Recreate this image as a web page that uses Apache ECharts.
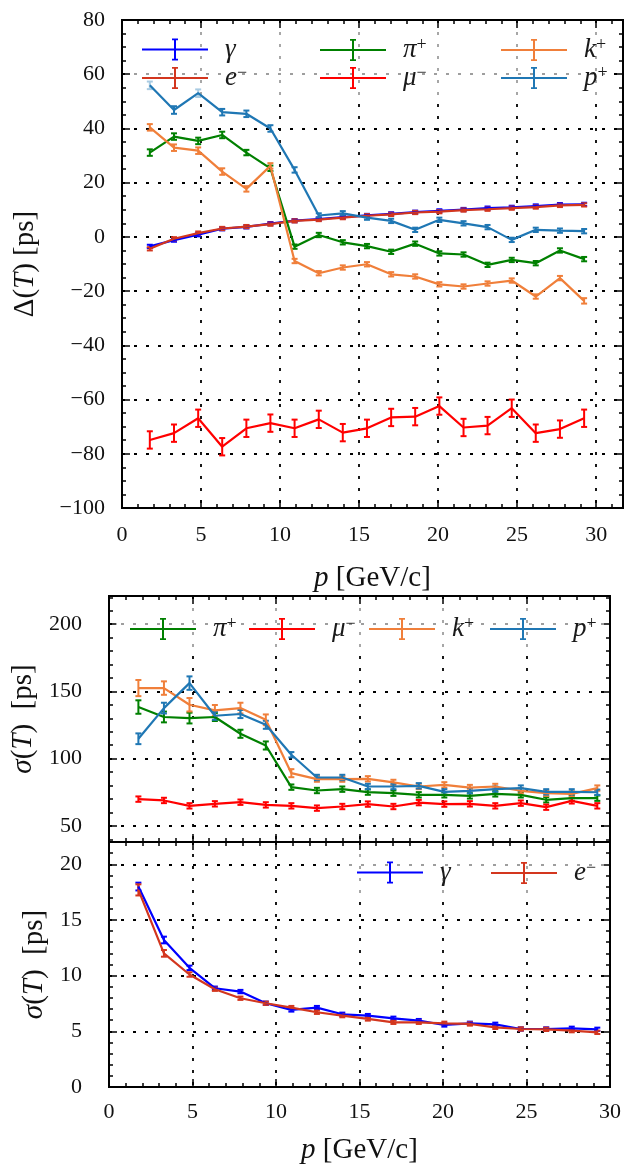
<!DOCTYPE html>
<html><head><meta charset="utf-8">
<script src="https://cdn.jsdelivr.net/npm/echarts@6/dist/echarts.min.js"></script>
<style>html,body{margin:0;padding:0;background:#fff}#c{width:629px;height:1172px}</style>
</head><body><div id="c"></div><script>
// ---- data ----
const pMomentum = [1.76, 3.29, 4.82, 6.34, 7.87, 9.39, 10.92, 12.45, 13.97, 15.50, 17.03, 18.55, 20.08, 21.61, 23.13, 24.66, 26.18, 27.71, 29.24];

// Delta(T) [ps]
const dT_gamma = [-3.5, -1.2, 0.8, 3.0, 3.7, 4.9, 6.0, 6.6, 7.3, 7.9, 8.5, 9.1, 9.6, 10.1, 10.6, 10.9, 11.4, 11.9, 12.0];
const dT_eminus = [-4.4, -0.7, 1.4, 3.1, 3.8, 4.7, 5.9, 6.4, 7.1, 7.8, 8.3, 9.0, 9.3, 9.9, 10.2, 10.6, 11.0, 11.6, 11.8];
const dT_piplus = [31.1, 37.0, 35.4, 37.6, 31.1, 25.3, -3.6, 0.7, -2.0, -3.4, -5.5, -2.5, -6.1, -6.5, -10.3, -8.5, -9.7, -5.0, -8.2];
const dT_muminus = [-74.9, -72.4, -66.9, -77.4, -70.6, -68.7, -70.6, -67.3, -72.2, -70.6, -66.6, -66.3, -62.4, -70.3, -69.6, -63.2, -72.4, -70.9, -66.9];
const dT_kplus = [40.4, 32.9, 31.8, 24.1, 17.7, 26.2, -8.9, -13.4, -11.3, -10.1, -13.8, -14.6, -17.5, -18.3, -17.2, -16.1, -22.0, -15.2, -23.6];
const dT_pplus = [55.9, 46.8, 53.0, 46.0, 45.4, 40.0, 24.7, 7.9, 8.7, 7.1, 5.9, 2.6, 6.3, 5.0, 3.6, -1.1, 2.6, 2.3, 2.1];

const dTerr_gamma = [0.6, 0.6, 0.6, 0.6, 0.6, 0.6, 0.6, 0.6, 0.6, 0.6, 0.6, 0.6, 0.6, 0.6, 0.6, 0.6, 0.6, 0.6, 0.6];
const dTerr_eminus = [0.6, 0.6, 0.6, 0.6, 0.6, 0.6, 0.6, 0.6, 0.6, 0.6, 0.6, 0.6, 0.6, 0.6, 0.6, 0.6, 0.6, 0.6, 0.6];
const dTerr_piplus = [1.2, 1.2, 1.2, 1.2, 1.0, 1.0, 0.8, 0.8, 0.8, 0.8, 0.8, 0.8, 0.8, 0.8, 0.8, 0.8, 0.8, 0.8, 0.8];
const dTerr_muminus = [3.2, 3.2, 3.2, 3.2, 3.2, 3.2, 3.2, 3.2, 3.2, 3.2, 3.2, 3.2, 3.2, 3.2, 3.2, 3.2, 3.2, 3.2, 3.2];
const dTerr_kplus = [1.2, 1.2, 1.2, 1.2, 1.0, 1.0, 0.8, 0.8, 0.8, 0.8, 0.8, 0.8, 0.8, 0.8, 0.8, 0.8, 0.8, 0.8, 1.0];
const dTerr_pplus = [1.4, 1.4, 1.4, 1.2, 1.2, 1.2, 1.0, 0.8, 0.8, 0.8, 0.8, 0.8, 0.8, 0.8, 0.8, 0.8, 0.8, 0.8, 0.8];

// sigma(T) [ps], hadrons & muon
const sT_piplus = [138.4, 131.0, 130.2, 131.0, 118.5, 109.8, 78.8, 76.3, 77.3, 75.1, 74.3, 73.1, 73.1, 72.3, 73.8, 73.1, 69.4, 70.6, 70.6];
const sT_muminus = [69.9, 68.9, 64.9, 66.4, 67.6, 65.6, 64.9, 63.2, 64.4, 66.2, 64.4, 67.3, 66.2, 66.4, 64.9, 66.9, 63.9, 68.6, 64.9];
const sT_kplus = [152.5, 152.5, 140.1, 135.9, 137.6, 128.9, 89.2, 84.8, 84.8, 85.0, 82.3, 79.3, 80.5, 78.5, 79.3, 76.1, 74.3, 73.8, 78.1];
const sT_pplus = [114.8, 137.6, 156.2, 131.9, 133.2, 125.2, 102.9, 86.0, 86.0, 79.3, 79.3, 79.8, 75.3, 76.1, 77.3, 78.1, 75.3, 75.3, 75.0];

const sTerr_piplus = [5, 4, 4, 3, 3, 3, 2, 2, 2, 2, 2, 2, 2, 2, 2, 2, 2, 2, 2];
const sTerr_muminus = [2, 2, 2, 2, 2, 2, 2, 2, 2, 2, 2, 2, 2, 2, 2, 2, 2, 2, 2];
const sTerr_kplus = [6, 5, 5, 4, 4, 4, 3, 2, 2, 2, 2, 2, 2, 2, 2, 2, 2, 2, 2];
const sTerr_pplus = [4, 4, 5, 3, 3, 3, 2, 2, 2, 2, 2, 2, 2, 2, 2, 2, 2, 2, 2];

// sigma(T) [ps], photon & electron
const sT_gamma = [18.0, 13.2, 10.7, 8.87, 8.57, 7.52, 6.92, 7.13, 6.53, 6.41, 6.17, 5.96, 5.57, 5.72, 5.63, 5.21, 5.21, 5.27, 5.18];
const sT_eminus = [17.7, 12.0, 10.1, 8.78, 7.97, 7.52, 7.13, 6.71, 6.41, 6.11, 5.81, 5.81, 5.72, 5.66, 5.36, 5.21, 5.18, 5.06, 4.91];
const sTerr_gamma = [0.35, 0.3, 0.2, 0.15, 0.15, 0.15, 0.15, 0.15, 0.15, 0.15, 0.15, 0.15, 0.15, 0.15, 0.15, 0.15, 0.15, 0.15, 0.15];
const sTerr_eminus = [0.5, 0.3, 0.2, 0.15, 0.15, 0.15, 0.15, 0.15, 0.15, 0.15, 0.15, 0.15, 0.15, 0.15, 0.15, 0.15, 0.15, 0.15, 0.15];

// ticks
const xTicksMajor = [0, 5, 10, 15, 20, 25, 30];
const xTicksMinorTop = [0,1,2,3,4,5,6,7,8,9,10,11,12,13,14,15,16,17,18,19,20,21,22,23,24,25,26,27,28,29,30,31];
const xTicksMinor = [0,1,2,3,4,5,6,7,8,9,10,11,12,13,14,15,16,17,18,19,20,21,22,23,24,25,26,27,28,29,30];
const yTicksDelta = [-100, -80, -60, -40, -20, 0, 20, 40, 60, 80];
const yTicksDeltaMinor = [-100,-95,-90,-85,-80,-75,-70,-65,-60,-55,-50,-45,-40,-35,-30,-25,-20,-15,-10,-5,0,5,10,15,20,25,30,35,40,45,50,55,60,65,70,75,80];
const yTicksSigHad = [50, 100, 150, 200];
const yTicksSigHadMinor = [40,50,60,70,80,90,100,110,120,130,140,150,160,170,180,190,200,210,220];
const yTicksSigEm = [0, 5, 10, 15, 20];
const yTicksSigEmMinor = [0,1,2,3,4,5,6,7,8,9,10,11,12,13,14,15,16,17,18,19,20,21,22];

// ---- styles ----
const C = { gamma:'#0000ff', eminus:'#d3361e', piplus:'#008000', muminus:'#ff0000', kplus:'#f07f3a', pplus:'#1f77b4' };
const FONT = 'Liberation Serif';
const gridLine = { show:true, lineStyle:{ color:'#000', width:1.8, type:[3,9] } };
const nameRich = {
  n: { fontFamily:FONT, fontSize:29, lineHeight:32, color:'#111' },
  it: { fontFamily:FONT, fontSize:29, lineHeight:32, fontStyle:'italic', color:'#111' }
};
const fmtNum = v => String(v).replace('-', '\u2212');

function axisSet(dim, gi, min, max, major, minor, o) {
  const posA = dim === 'x' ? 'bottom' : 'left';
  const posB = dim === 'x' ? 'top' : 'right';
  const base = (pos, ticks, len, labels, split) => ({
    gridIndex: gi, type:'value', min, max, position: pos,
    axisLine:{ show:true, onZero:false, lineStyle:{ color:'#000', width:2 } },
    axisTick:{ show:true, inside:true, length:len, customValues:ticks, lineStyle:{ color:'#000', width:1.5 } },
    axisLabel: labels ? { show:true, customValues:ticks, formatter:fmtNum, fontFamily:FONT, fontSize:22, color:'#111', margin:o.margin } : { show:false },
    splitLine: split ? gridLine : { show:false },
    minorTick:{ show:false }
  });
  const a = base(posA, major, 8, o.labels, true);
  if (o.name) {
    a.name = o.name; a.nameLocation = 'middle'; a.nameGap = o.nameGap;
    a.nameTextStyle = { rich: nameRich };
  }
  return [a, base(posA, minor, 4, false, false), base(posB, major, 8, false, false), base(posB, minor, 4, false, false)];
}

const xAxis = [].concat(
  axisSet('x', 0, 0, 31.7, xTicksMajor, xTicksMinorTop, { labels:true, margin:16, name:'{it|p}{n| [GeV/c]}', nameGap:54 }),
  axisSet('x', 1, 0, 30, xTicksMajor, xTicksMinor, { labels:false }),
  axisSet('x', 2, 0, 30, xTicksMajor, xTicksMinor, { labels:true, margin:14, name:'{it|p}{n| [GeV/c]}', nameGap:47 })
);
const yAxis = [].concat(
  axisSet('y', 0, -100, 80, yTicksDelta, yTicksDeltaMinor, { labels:true, margin:17, name:'{n|\u0394(}{it|T}{n|) [ps]}', nameGap:81 }),
  axisSet('y', 1, 38, 221, yTicksSigHad, yTicksSigHadMinor, { labels:true, margin:27, name:'{it|\u03c3}{n|(}{it|T}{n|)  [ps]}', nameGap:67 }),
  axisSet('y', 2, 0, 22, yTicksSigEm, yTicksSigEmMinor, { labels:true, margin:27, name:'{it|\u03c3}{n|(}{it|T}{n|)  [ps]}', nameGap:59 })
);

function errRender(params, api) {
  const x = api.value(0), y = api.value(1), e = api.value(2);
  const hi = api.coord([x, y + e]), lo = api.coord([x, y - e]);
  const st = { stroke: api.visual('color'), lineWidth: 2 };
  return { type:'group', children:[
    { type:'line', shape:{ x1:hi[0], y1:hi[1], x2:lo[0], y2:lo[1] }, style:st },
    { type:'line', shape:{ x1:hi[0]-3, y1:hi[1], x2:hi[0]+3, y2:hi[1] }, style:st },
    { type:'line', shape:{ x1:lo[0]-3, y1:lo[1], x2:lo[0]+3, y2:lo[1] }, style:st }
  ]};
}

const series = [];
function addSeries(name, color, ys, errs, axisIdx) {
  series.push({ type:'line', name, xAxisIndex:axisIdx, yAxisIndex:axisIdx,
    data: pMomentum.map((x, i) => [x, ys[i]]), symbol:'none',
    lineStyle:{ color, width:2.2 }, itemStyle:{ color }, animation:false });
  series.push({ type:'custom', name, xAxisIndex:axisIdx, yAxisIndex:axisIdx,
    data: pMomentum.map((x, i) => [x, ys[i], errs[i]]), encode:{ x:0, y:1 },
    renderItem: errRender, itemStyle:{ color }, animation:false });
}
addSeries('\u03b3', C.gamma, dT_gamma, dTerr_gamma, 0);
addSeries('e\u2212', C.eminus, dT_eminus, dTerr_eminus, 0);
addSeries('\u03c0+', C.piplus, dT_piplus, dTerr_piplus, 0);
addSeries('\u03bc\u2212', C.muminus, dT_muminus, dTerr_muminus, 0);
addSeries('k+', C.kplus, dT_kplus, dTerr_kplus, 0);
addSeries('p+', C.pplus, dT_pplus, dTerr_pplus, 0);

addSeries('\u03c0+', C.piplus, sT_piplus, sTerr_piplus, 4);
addSeries('\u03bc\u2212', C.muminus, sT_muminus, sTerr_muminus, 4);
addSeries('k+', C.kplus, sT_kplus, sTerr_kplus, 4);
addSeries('p+', C.pplus, sT_pplus, sTerr_pplus, 4);

addSeries('\u03b3', C.gamma, sT_gamma, sTerr_gamma, 8);
addSeries('e\u2212', C.eminus, sT_eminus, sTerr_eminus, 8);

// ---- legends ----
const ICON = 'path://M0,10 L66,10 L66,12 L0,12 Z M32,0 L34,0 L34,22 L32,22 Z M30,0 L36,0 L36,1.8 L30,1.8 Z M30,20.2 L36,20.2 L36,22 L30,22 Z';
const legendLabel = {
  '\u03b3':'{m|\u03b3}', 'e\u2212':'{m|e}{s|\u2212}', '\u03c0+':'{m|\u03c0}{s|+}',
  '\u03bc\u2212':'{m|\u03bc}{s|\u2212}', 'k+':'{m|k}{s|+}', 'p+':'{m|p}{s|+}'
};
function leg(name, color, left, centerY) {
  return { data:[name], left, top: centerY - 14, padding:0, orient:'horizontal',
    itemWidth:66, itemHeight:22, icon:ICON, selectedMode:false,
    itemStyle:{ color, borderWidth:0 },
    formatter: n => legendLabel[n],
    textStyle:{ padding:[0,0,0,12], rich:{
      m:{ fontFamily:FONT, fontStyle:'italic', fontSize:27, lineHeight:28, color:'#1a1a1a' },
      s:{ fontFamily:FONT, fontSize:18, lineHeight:15, verticalAlign:'top', color:'#1a1a1a' }
    } } };
}
const legend = [
  leg('\u03b3', C.gamma, 142, 50), leg('\u03c0+', C.piplus, 320, 50), leg('k+', C.kplus, 501, 50),
  leg('e\u2212', C.eminus, 142, 78), leg('\u03bc\u2212', C.muminus, 320, 78), leg('p+', C.pplus, 501, 78),
  leg('\u03c0+', C.piplus, 130, 629), leg('\u03bc\u2212', C.muminus, 249, 629), leg('k+', C.kplus, 369, 629), leg('p+', C.pplus, 490, 629),
  leg('\u03b3', C.gamma, 357, 873), leg('e\u2212', C.eminus, 491, 873)
];

const frame = (x, y, w, h) => ({ type:'rect', z:3, silent:true, shape:{ x, y, width:w, height:h }, style:{ fill:'rgba(255,255,255,0.62)' } });

const chart = echarts.init(document.getElementById('c'), null, { renderer:'canvas' });
chart.setOption({
  animation:false,
  backgroundColor:'#fff',
  grid:[
    { left:122, top:20, width:501, height:488 },
    { left:109, top:596, width:501, height:246 },
    { left:109, top:842, width:501, height:245 }
  ],
  xAxis, yAxis, legend, series,
  graphic:[ frame(130, 30, 482, 71), frame(116, 607, 488, 45), frame(348, 853, 256, 42) ]
});
</script></body></html>
